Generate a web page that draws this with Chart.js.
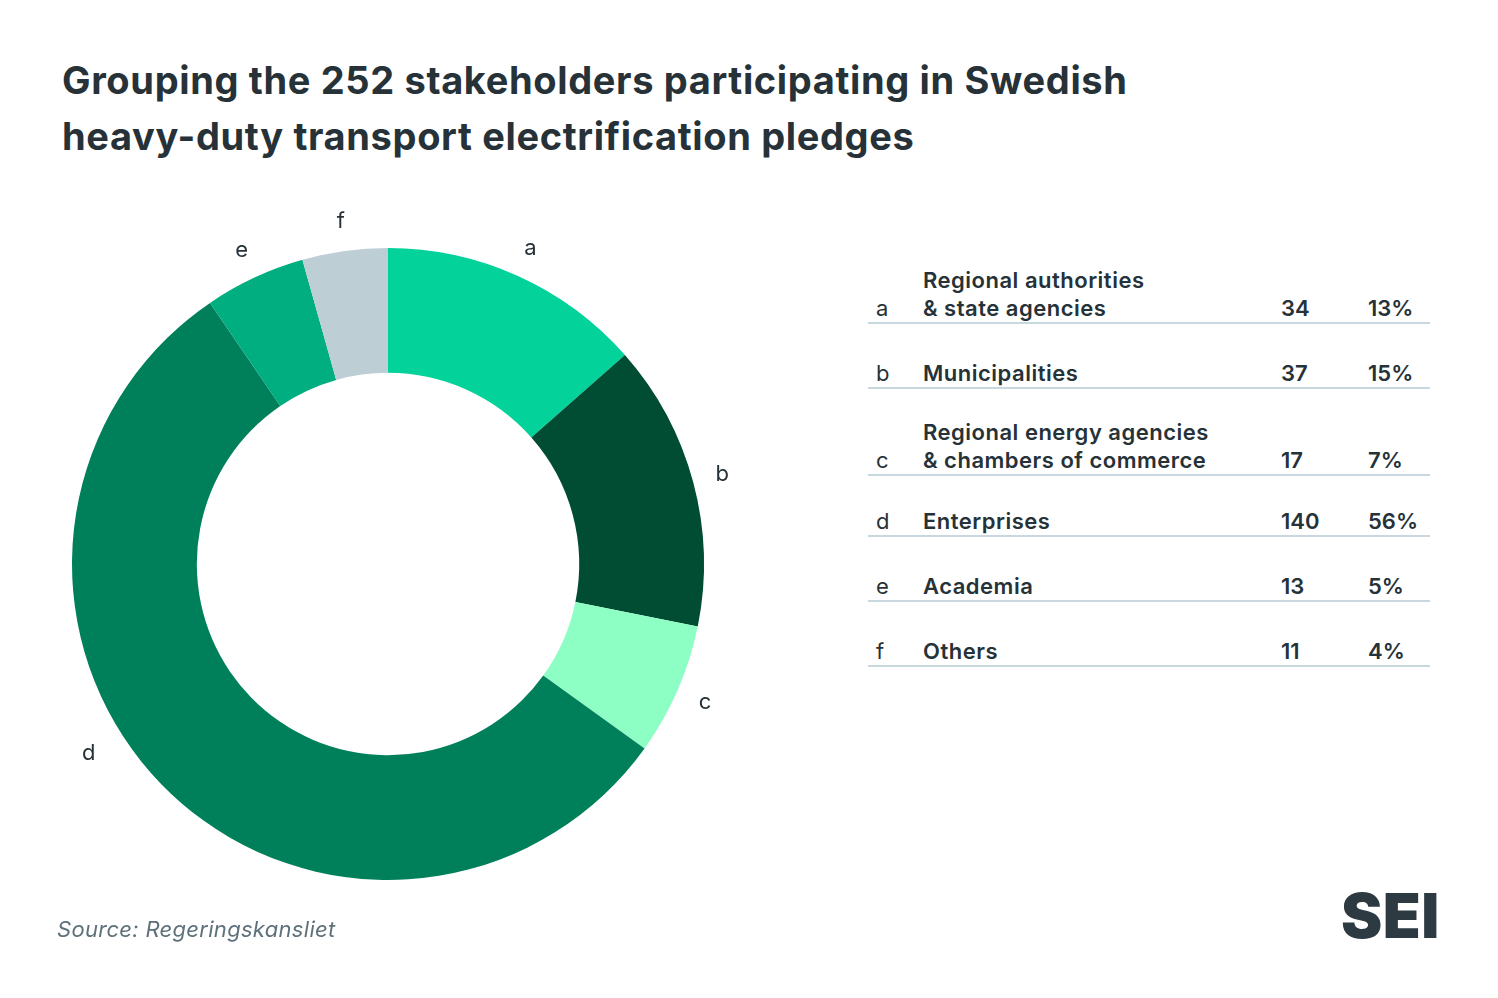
<!DOCTYPE html>
<html>
<head>
<meta charset="utf-8">
<script src="https://cdn.jsdelivr.net/npm/chart.js@4/dist/chart.umd.min.js"></script>
<style>
  html, body { margin:0; padding:0; background:#fff; }
  #page { position:relative; width:1498px; height:998px; overflow:hidden; font-family:Inter, "Open Sans", sans-serif; color:#263238; }
  #title { position:absolute; left:62px; top:52px; font-size:38px; font-weight:700; line-height:56px; letter-spacing:0.65px; }
  #chartWrap { position:absolute; left:13px; top:189px; width:750px; height:750px; }
  #table { position:absolute; left:868px; top:262px; width:562px; }
  .row { position:relative; border-bottom:2px solid #c9d7de; font-size:22px; }
  .row span { position:absolute; bottom:0px; line-height:28px; }
  .let { left:8px; font-weight:400; }
  .lab { left:55px; font-weight:600; letter-spacing:0.5px; }
  .cnt { left:413px; font-weight:600; }
  .pct { left:500px; font-weight:600; }
  #source { position:absolute; left:57px; top:916px; font-size:22px; font-style:italic; color:#5e717b; letter-spacing:0.3px; }
  #logo { position:absolute; left:1341px; top:878px; font-size:62px; font-weight:900; color:#2d3a41; letter-spacing:0.5px; }
</style>
</head>
<body>
<div id="page">
  <div id="title">Grouping the 252 stakeholders participating in Swedish<br>heavy-duty transport electrification pledges</div>
  <div id="chartWrap"><canvas id="c" width="750" height="750"></canvas></div>
  <div id="table"></div>
  <div id="source">Source: Regeringskansliet</div>
  <div id="logo">SEI</div>
</div>
<script>
const letters = ['a','b','c','d','e','f'];
const categories = [
  ['Regional authorities', '& state agencies'],
  ['Municipalities'],
  ['Regional energy agencies', '& chambers of commerce'],
  ['Enterprises'],
  ['Academia'],
  ['Others']
];
const counts = [34, 37, 17, 140, 13, 11];
const colors = ['#03d29a', '#004d33', '#8effc4', '#00805a', '#00ae7f', '#bdced5'];
const rowHeights = [60, 63, 85, 59, 63, 63];
const labelAngleShift = [0, 0, 0, 12, 0, 0];   // degrees
const labelRadiusExtra = [30, 30, 30, 38, 30, 30];

const total = counts.reduce((s, v) => s + v, 0);
const pcts = counts.map(v => Math.round(v / total * 100) + '%');

// table
const table = document.getElementById('table');
letters.forEach((l, i) => {
  const row = document.createElement('div');
  row.className = 'row';
  row.style.height = rowHeights[i] + 'px';
  row.innerHTML =
    '<span class="let">' + l + '</span>' +
    '<span class="lab">' + categories[i].join('<br>') + '</span>' +
    '<span class="cnt">' + counts[i] + '</span>' +
    '<span class="pct">' + pcts[i] + '</span>';
  table.appendChild(row);
});

const outerLabels = {
  id: 'outerLabels',
  afterDatasetsDraw(chart) {
    const ctx = chart.ctx;
    const meta = chart.getDatasetMeta(0);
    ctx.save();
    ctx.font = '400 22px Inter, sans-serif';
    ctx.fillStyle = '#263238';
    ctx.textAlign = 'center';
    ctx.textBaseline = 'middle';
    meta.data.forEach((arc, i) => {
      const p = arc.getProps(['x','y','startAngle','endAngle','outerRadius'], true);
      const mid = (p.startAngle + p.endAngle) / 2 + labelAngleShift[i] * Math.PI / 180;
      const r = p.outerRadius + labelRadiusExtra[i];
      ctx.fillText(chart.data.labels[i], p.x + Math.cos(mid) * r, p.y + Math.sin(mid) * r);
    });
    ctx.restore();
  }
};

new Chart(document.getElementById('c'), {
  type: 'doughnut',
  data: {
    labels: letters,
    datasets: [{
      data: counts,
      backgroundColor: colors,
      borderWidth: 0,
      hoverOffset: 0
    }]
  },
  options: {
    responsive: false,
    animation: false,
    cutout: '60.5%',
    layout: { padding: 59 },
    plugins: { legend: { display: false }, tooltip: { enabled: false } }
  },
  plugins: [outerLabels]
});
</script>
</body>
</html>
